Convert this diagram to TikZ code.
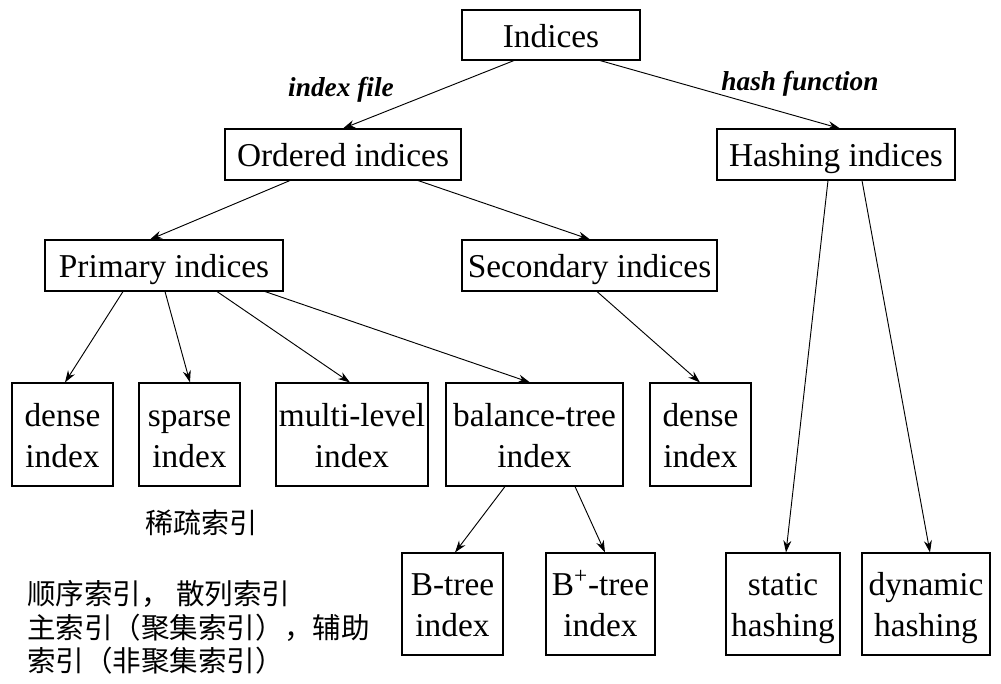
\documentclass[tikz,border=0pt]{standalone}
\usepackage{fontspec}
\setmainfont{Liberation Serif}
\newfontfamily\cjk{Noto Sans CJK SC}
\usetikzlibrary{arrows.meta}
\newcommand\myln[1]{\rule[-6.2pt]{0pt}{30.7pt}#1}
\begin{document}
\begin{tikzpicture}[x=0.75pt,y=-0.75pt,
  box/.style={draw,line width=0.8pt,inner sep=0pt,align=center,font=\fontsize{25}{30.75}\selectfont},
  arr/.style={line width=0.7pt,-{Stealth[length=9pt,width=6pt]}},
  lab/.style={font=\fontsize{20.5}{24}\selectfont\bfseries\itshape},
  cn/.style={font=\fontsize{21.4}{25}\cjk,anchor=west,inner sep=0pt}]
\useasboundingbox (0,0) rectangle (1001,684);
\node[box,minimum width=133.5pt,minimum height=37.5pt] (ind) at (551,35) {\myln{Indices}};
\node[box,minimum width=177pt,minimum height=38.25pt] (ord) at (343,154.5) {\myln{Ordered indices}};
\node[box,minimum width=178.5pt,minimum height=38.25pt] (hash) at (836,154.5) {\myln{Hashing indices}};
\node[box,minimum width=178.5pt,minimum height=38.25pt] (pri) at (164,265.5) {\myln{Primary indices}};
\node[box,minimum width=191.25pt,minimum height=38.25pt] (sec) at (589.5,265.5) {\myln{Secondary indices}};
\node[box,minimum width=75.75pt,minimum height=77.25pt] (den) at (62.5,434.5) {\myln{dense}\\\myln{index}};
\node[box,minimum width=75.75pt,minimum height=77.25pt] (spa) at (189.5,434.5) {\myln{sparse}\\\myln{index}};
\node[box,minimum width=114pt,minimum height=77.25pt] (mul) at (352,434.5) {\myln{multi-level}\\\myln{index}};
\node[box,minimum width=132.75pt,minimum height=77.25pt] (bal) at (534.5,434.5) {\myln{balance-tree}\\\myln{index}};
\node[box,minimum width=75.75pt,minimum height=77.25pt] (den2) at (700.5,434.5) {\myln{dense}\\\myln{index}};
\node[box,minimum width=75.75pt,minimum height=76.5pt] (bt) at (452.5,604) {\myln{B-tree}\\\myln{index}};
\node[box,minimum width=81.75pt,minimum height=76.5pt] (bpt) at (600.5,604) {\myln{B\textsuperscript{+}-tree}\\\myln{index}};
\node[box,minimum width=85.5pt,minimum height=76.5pt] (sta) at (783,604) {\myln{static}\\\myln{hashing}};
\node[box,minimum width=96pt,minimum height=76.5pt] (dyn) at (926,604) {\myln{dynamic}\\\myln{hashing}};
\node[lab] (l1) at (341,90) {index file};
\node[lab] (l2) at (800,84) {hash function};
\draw[arr] (ind.south -| 514,0) -- (ord.north -| 343,0);
\draw[arr] (ind.south -| 600,0) -- (hash.north -| 840,0);
\draw[arr] (ord.south -| 290,0) -- (pri.north -| 150,0);
\draw[arr] (ord.south -| 418,0) -- (sec.north -| 590,0);
\draw[arr] (pri.south -| 123,0) -- (den.north -| 65,0);
\draw[arr] (pri.south -| 165,0) -- (spa.north -| 190,0);
\draw[arr] (pri.south -| 217,0) -- (mul.north -| 350,0);
\draw[arr] (pri.south -| 265,0) -- (bal.north -| 530,0);
\draw[arr] (sec.south -| 597,0) -- (den2.north -| 700,0);
\draw[arr] (bal.south -| 505,0) -- (bt.north -| 455,0);
\draw[arr] (bal.south -| 575,0) -- (bpt.north -| 605,0);
\draw[arr] (hash.south -| 828,0) -- (sta.north -| 786,0);
\draw[arr] (hash.south -| 862,0) -- (dyn.north -| 930,0);
\node[cn,font=\fontsize{21}{25}\cjk] (c1) at (145,523) {稀疏索引};
\node[cn] (c2) at (27,594) {顺序索引， 散列索引};
\node[cn] (c3) at (27,628) {主索引（聚集索引），辅助};
\node[cn] (c4) at (27,661) {索引（非聚集索引）};
\end{tikzpicture}
\end{document}
